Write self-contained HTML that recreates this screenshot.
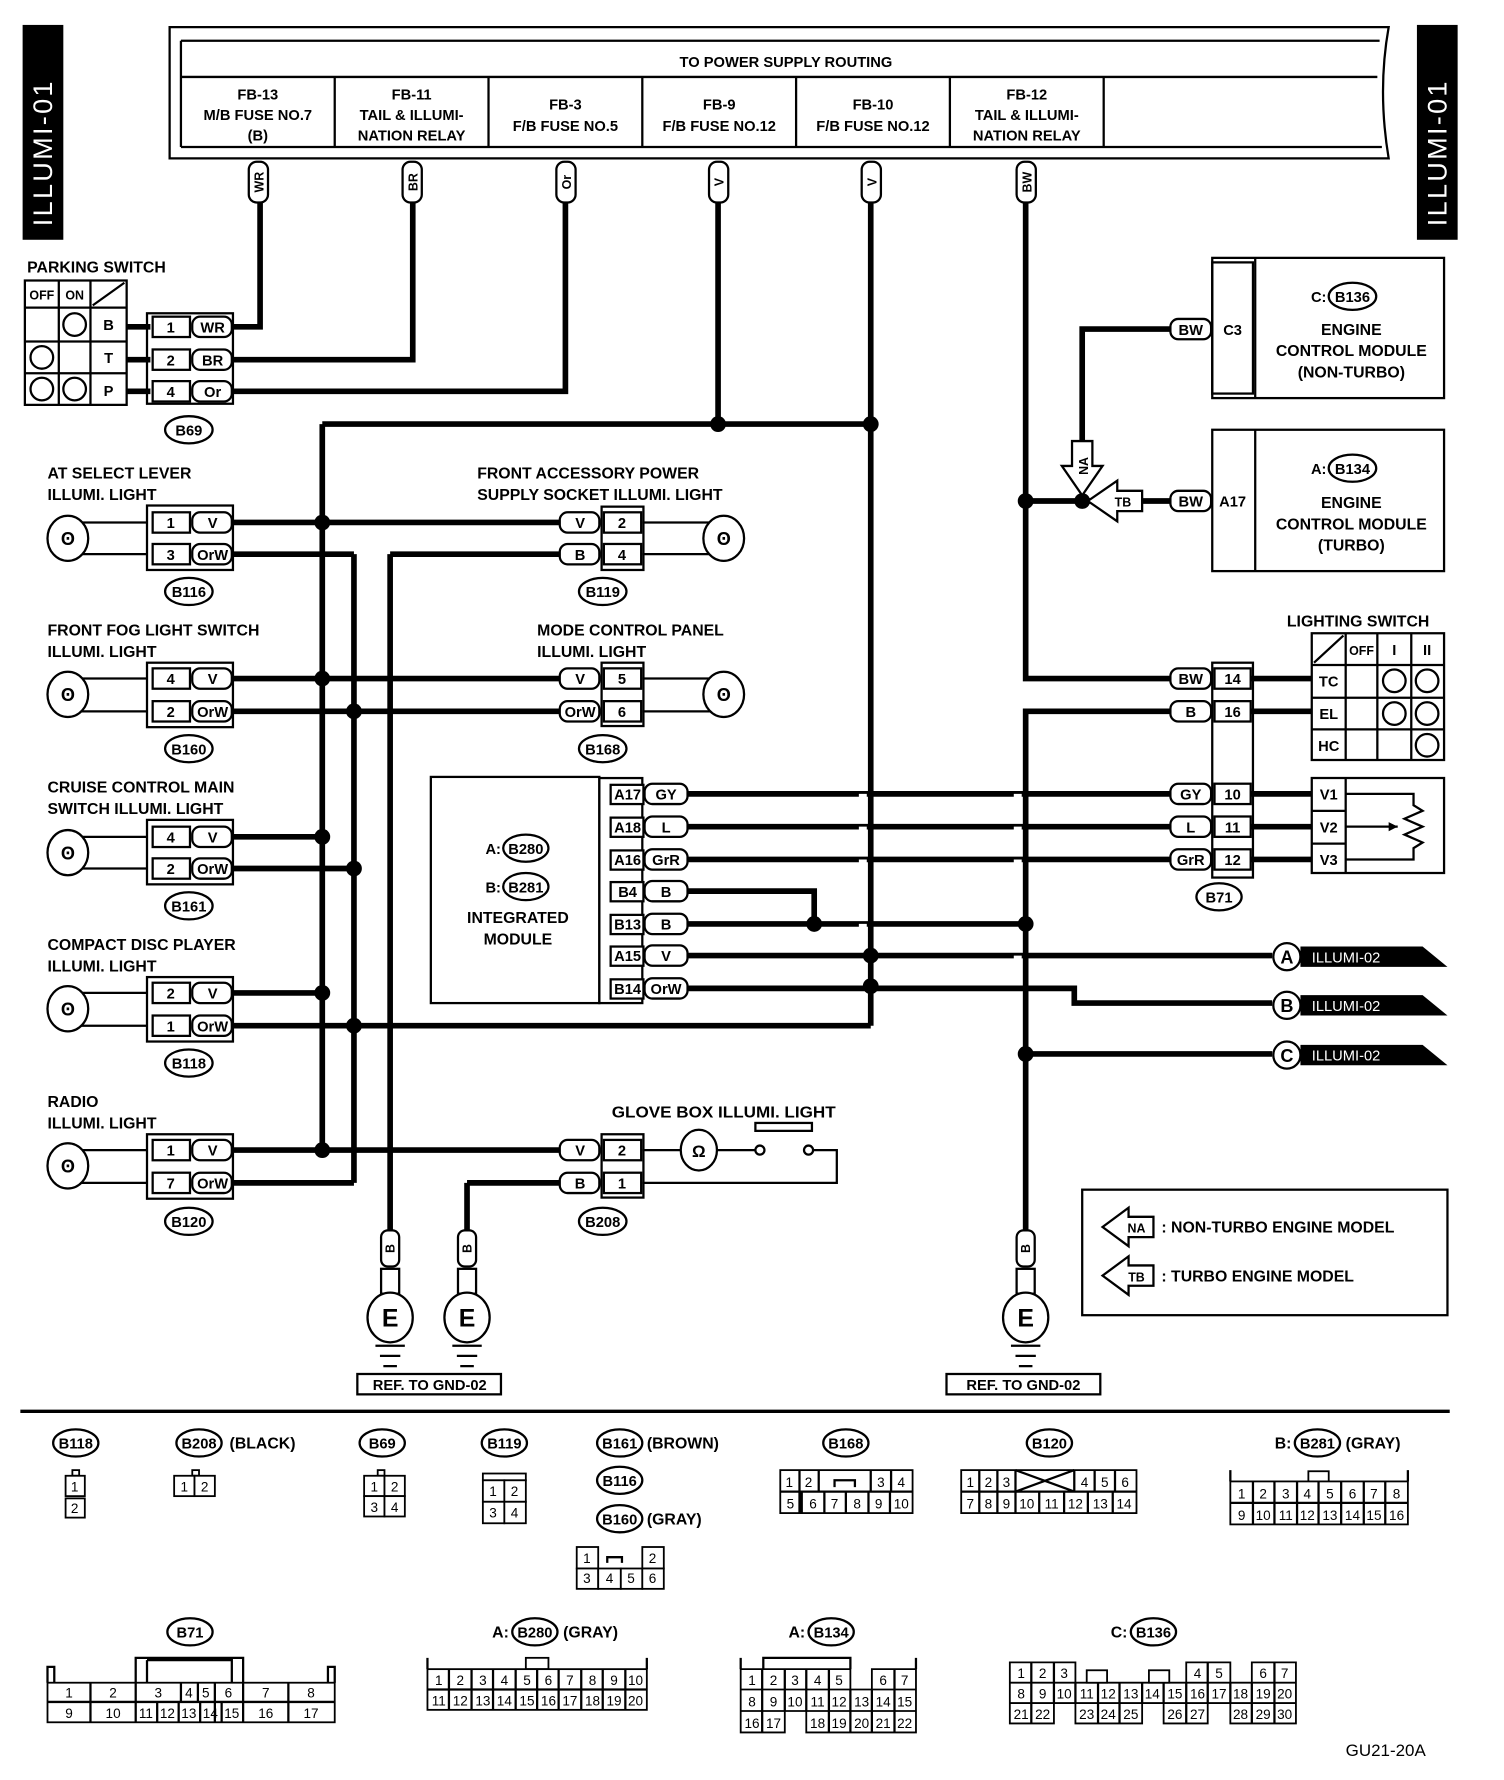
<!DOCTYPE html>
<html><head><meta charset="utf-8"><style>
html,body{margin:0;padding:0;background:#fff}
svg{display:block}
text{font-family:"Liberation Sans Narrow","Liberation Sans",sans-serif;font-weight:bold;fill:#000}
.w{fill:none;stroke:#000;stroke-width:5}
.t{fill:none;stroke:#000;stroke-width:2}
.c{fill:#fff;stroke:#000;stroke-width:1.6}
.p{fill:#fff;stroke:#000;stroke-width:2}
.s{font-size:14px}
.m{font-size:13px;text-anchor:middle}
.n{font-size:12px;text-anchor:middle;font-weight:normal}
.e{font-size:13px;text-anchor:end}
</style></head><body>
<svg width="1504" height="1780" viewBox="0 0 1330 1574" xmlns="http://www.w3.org/2000/svg">
<!-- side tabs -->
<rect x="20" y="22" width="36" height="190" fill="#000"/>
<text transform="translate(46,200) rotate(-90)" style="font-size:24px;fill:#fff;font-weight:normal;letter-spacing:2px">ILLUMI-01</text>
<rect x="1253" y="22" width="36" height="190" fill="#000"/>
<text transform="translate(1279,200) rotate(-90)" style="font-size:24px;fill:#fff;font-weight:normal;letter-spacing:2px">ILLUMI-01</text>

<!-- power supply box -->
<path d="M150,24 H1228 Q1218,80 1228,140 H150 Z" class="t" stroke-width="3"/>
<path d="M160,36 H1220 M160,68 H1218 M160,130 H1222 M160,36 V130" class="t"/>
<text x="695" y="59" class="m">TO POWER SUPPLY ROUTING</text>
<path d="M296,68 V130 M432,68 V130 M568,68 V130 M704,68 V130 M840,68 V130 M976,68 V130" class="t"/>
<g class="m">
<text x="228" y="88" class="m">FB-13</text><text x="228" y="106" class="m">M/B FUSE NO.7</text><text x="228" y="124" class="m">(B)</text>
<text x="364" y="88" class="m">FB-11</text><text x="364" y="106" class="m">TAIL &amp; ILLUMI-</text><text x="364" y="124" class="m">NATION RELAY</text>
<text x="500" y="97" class="m">FB-3</text><text x="500" y="116" class="m">F/B FUSE NO.5</text>
<text x="636" y="97" class="m">FB-9</text><text x="636" y="116" class="m">F/B FUSE NO.12</text>
<text x="772" y="97" class="m">FB-10</text><text x="772" y="116" class="m">F/B FUSE NO.12</text>
<text x="908" y="88" class="m">FB-12</text><text x="908" y="106" class="m">TAIL &amp; ILLUMI-</text><text x="908" y="124" class="m">NATION RELAY</text>
</g>
<!-- vertical wire tags -->
<g>
<rect x="220" y="143" width="17" height="36" rx="7" class="p"/><text transform="translate(233,161) rotate(-90)" class="m" style="font-size:11px">WR</text>
<rect x="356" y="143" width="17" height="36" rx="7" class="p"/><text transform="translate(369,161) rotate(-90)" class="m" style="font-size:11px">BR</text>
<rect x="492" y="143" width="17" height="36" rx="7" class="p"/><text transform="translate(505,161) rotate(-90)" class="m" style="font-size:11px">Or</text>
<rect x="627" y="143" width="17" height="36" rx="7" class="p"/><text transform="translate(640,161) rotate(-90)" class="m" style="font-size:11px">V</text>
<rect x="762" y="143" width="17" height="36" rx="7" class="p"/><text transform="translate(775,161) rotate(-90)" class="m" style="font-size:11px">V</text>
<rect x="899" y="143" width="17" height="36" rx="7" class="p"/><text transform="translate(912,161) rotate(-90)" class="m" style="font-size:11px">BW</text>
</g>

<!-- main wires -->
<g class="w">
<path d="M205,289 H230 V179"/>
<path d="M205,318 H365 V179"/>
<path d="M205,346 H500 V179"/>
<path d="M635,179 V375"/>
<path d="M770,179 V907"/>
<path d="M285,375 H770"/>
<path d="M285,375 V1017"/>
<path d="M313,490 V1046"/>
<path d="M907,179 V600 H1035"/>
<path d="M1035,629 H907 V1090"/>
<path d="M907,443 H1010"/>
<path d="M1035,291 H957 V400"/>
<path d="M205,462 H495"/><path d="M205,490 H313"/>
<path d="M205,600 H495"/><path d="M205,629 H495"/>
<path d="M205,740 H285"/><path d="M205,768 H313"/>
<path d="M205,878 H285"/><path d="M205,907 H770"/>
<path d="M205,1017 H495"/><path d="M205,1046 H313"/>
<path d="M345,490 H495"/>
<path d="M608,702 H1035"/><path d="M608,731 H1035"/><path d="M608,760 H1035"/>
<path d="M608,788 H720 V817"/><path d="M608,817 H907"/>
<path d="M608,845 H1125"/>
<path d="M608,874 H950 V887 H1125"/>
<path d="M907,932 H1125"/>
<path d="M1106,600 H1160"/><path d="M1106,629 H1160"/>
<path d="M1106,702 H1160"/><path d="M1106,731 H1160"/><path d="M1106,760 H1160"/>
</g>
<path d="M345,490 V1090 M413,1046 H495 M413,1046 V1090" class="w" stroke-width="4"/>
<g stroke="#fff" stroke-width="7">
<path d="M763,702 V710 M763,731 V739 M763,760 V768 M763,817 V825"/>
<path d="M900,702 V708 M900,731 V737 M900,760 V766 M900,845 V851"/>
</g>
<g fill="#000">
<circle cx="635" cy="375" r="7"/><circle cx="770" cy="375" r="7"/>
<circle cx="285" cy="462" r="7"/><circle cx="285" cy="600" r="7"/><circle cx="313" cy="629" r="7"/>
<circle cx="285" cy="740" r="7"/><circle cx="313" cy="768" r="7"/>
<circle cx="285" cy="878" r="7"/><circle cx="313" cy="907" r="7"/><circle cx="285" cy="1017" r="7"/>
<circle cx="720" cy="817" r="7"/><circle cx="907" cy="817" r="7"/><circle cx="770" cy="845" r="7"/>
<circle cx="770" cy="872" r="7"/><circle cx="907" cy="932" r="7"/><circle cx="907" cy="443" r="7"/><circle cx="957" cy="443" r="7"/>
</g>

<!-- Parking switch -->
<text x="24" y="241" class="s">PARKING SWITCH</text>
<path d="M22,248 H112 V358 H22 Z M22,272 H112 M22,302 H112 M22,330 H112 M52,248 V358 M80,248 V358 M82,270 L110,250" class="t"/>
<text x="37" y="265" class="m" style="font-size:11px">OFF</text><text x="66" y="265" class="m" style="font-size:11px">ON</text>
<text x="96" y="292" class="m">B</text><text x="96" y="321" class="m">T</text><text x="96" y="350" class="m">P</text>
<g class="t"><circle cx="66" cy="287" r="10"/><circle cx="37" cy="316" r="10"/><circle cx="37" cy="344" r="10"/><circle cx="66" cy="344" r="10"/></g>
<path d="M112,289 H133 M112,318 H133 M112,346 H133" class="w"/>
<rect x="130" y="277" width="76" height="80" class="t"/>
<g>
<rect x="135" y="280" width="33" height="18" class="p"/><text x="151" y="294" class="m">1</text><rect x="170" y="280" width="35" height="18" rx="7" class="p"/><text x="188" y="294" class="m">WR</text>
<rect x="135" y="309" width="33" height="18" class="p"/><text x="151" y="323" class="m">2</text><rect x="170" y="309" width="35" height="18" rx="7" class="p"/><text x="188" y="323" class="m">BR</text>
<rect x="135" y="337" width="33" height="18" class="p"/><text x="151" y="351" class="m">4</text><rect x="170" y="337" width="35" height="18" rx="7" class="p"/><text x="188" y="351" class="m">Or</text>
</g>
<ellipse cx="167" cy="380" rx="21" ry="12" class="p"/><text x="167" y="385" class="m">B69</text>

<!-- left lamp groups -->
<g>
<text x="42" y="423" class="s">AT SELECT LEVER</text><text x="42" y="442" class="s">ILLUMI. LIGHT</text>
<path d="M60,462 H130 M60,490 H130" class="t"/><ellipse cx="60" cy="476" rx="18" ry="20" class="p" stroke-width="2.5"/><text x="60" y="482" class="m" style="font-size:16px">ʘ</text>
<rect x="130" y="447" width="76" height="57" class="t"/>
<rect x="135" y="453" width="33" height="18" class="p"/><text x="151" y="467" class="m">1</text><rect x="170" y="453" width="35" height="18" rx="7" class="p"/><text x="188" y="467" class="m">V</text>
<rect x="135" y="481" width="33" height="18" class="p"/><text x="151" y="495" class="m">3</text><rect x="170" y="481" width="35" height="18" rx="7" class="p"/><text x="188" y="495" class="m">OrW</text>
<ellipse cx="167" cy="523" rx="21" ry="12" class="p"/><text x="167" y="528" class="m">B116</text>

<text x="42" y="562" class="s">FRONT FOG LIGHT SWITCH</text><text x="42" y="581" class="s">ILLUMI. LIGHT</text>
<path d="M60,600 H130 M60,629 H130" class="t"/><ellipse cx="60" cy="614" rx="18" ry="20" class="p" stroke-width="2.5"/><text x="60" y="620" class="m" style="font-size:16px">ʘ</text>
<rect x="130" y="586" width="76" height="57" class="t"/>
<rect x="135" y="591" width="33" height="18" class="p"/><text x="151" y="605" class="m">4</text><rect x="170" y="591" width="35" height="18" rx="7" class="p"/><text x="188" y="605" class="m">V</text>
<rect x="135" y="620" width="33" height="18" class="p"/><text x="151" y="634" class="m">2</text><rect x="170" y="620" width="35" height="18" rx="7" class="p"/><text x="188" y="634" class="m">OrW</text>
<ellipse cx="167" cy="662" rx="21" ry="12" class="p"/><text x="167" y="667" class="m">B160</text>

<text x="42" y="701" class="s">CRUISE CONTROL MAIN</text><text x="42" y="720" class="s">SWITCH ILLUMI. LIGHT</text>
<path d="M60,740 H130 M60,768 H130" class="t"/><ellipse cx="60" cy="754" rx="18" ry="20" class="p" stroke-width="2.5"/><text x="60" y="760" class="m" style="font-size:16px">ʘ</text>
<rect x="130" y="725" width="76" height="57" class="t"/>
<rect x="135" y="731" width="33" height="18" class="p"/><text x="151" y="745" class="m">4</text><rect x="170" y="731" width="35" height="18" rx="7" class="p"/><text x="188" y="745" class="m">V</text>
<rect x="135" y="759" width="33" height="18" class="p"/><text x="151" y="773" class="m">2</text><rect x="170" y="759" width="35" height="18" rx="7" class="p"/><text x="188" y="773" class="m">OrW</text>
<ellipse cx="167" cy="801" rx="21" ry="12" class="p"/><text x="167" y="806" class="m">B161</text>

<text x="42" y="840" class="s">COMPACT DISC PLAYER</text><text x="42" y="859" class="s">ILLUMI. LIGHT</text>
<path d="M60,878 H130 M60,907 H130" class="t"/><ellipse cx="60" cy="892" rx="18" ry="20" class="p" stroke-width="2.5"/><text x="60" y="898" class="m" style="font-size:16px">ʘ</text>
<rect x="130" y="864" width="76" height="57" class="t"/>
<rect x="135" y="869" width="33" height="18" class="p"/><text x="151" y="883" class="m">2</text><rect x="170" y="869" width="35" height="18" rx="7" class="p"/><text x="188" y="883" class="m">V</text>
<rect x="135" y="898" width="33" height="18" class="p"/><text x="151" y="912" class="m">1</text><rect x="170" y="898" width="35" height="18" rx="7" class="p"/><text x="188" y="912" class="m">OrW</text>
<ellipse cx="167" cy="940" rx="21" ry="12" class="p"/><text x="167" y="945" class="m">B118</text>

<text x="42" y="979" class="s">RADIO</text><text x="42" y="998" class="s">ILLUMI. LIGHT</text>
<path d="M60,1017 H130 M60,1046 H130" class="t"/><ellipse cx="60" cy="1031" rx="18" ry="20" class="p" stroke-width="2.5"/><text x="60" y="1037" class="m" style="font-size:16px">ʘ</text>
<rect x="130" y="1003" width="76" height="57" class="t"/>
<rect x="135" y="1008" width="33" height="18" class="p"/><text x="151" y="1022" class="m">1</text><rect x="170" y="1008" width="35" height="18" rx="7" class="p"/><text x="188" y="1022" class="m">V</text>
<rect x="135" y="1037" width="33" height="18" class="p"/><text x="151" y="1051" class="m">7</text><rect x="170" y="1037" width="35" height="18" rx="7" class="p"/><text x="188" y="1051" class="m">OrW</text>
<ellipse cx="167" cy="1080" rx="21" ry="12" class="p"/><text x="167" y="1085" class="m">B120</text>
</g>

<!-- right lamps -->
<text x="422" y="423" class="s">FRONT ACCESSORY POWER</text><text x="422" y="442" class="s">SUPPLY SOCKET ILLUMI. LIGHT</text>
<path d="M568,462 H640 M568,490 H640" class="t"/><ellipse cx="640" cy="476" rx="18" ry="20" class="p" stroke-width="2.5"/><text x="640" y="482" class="m" style="font-size:16px">ʘ</text>
<rect x="532" y="448" width="37" height="56" class="t"/>
<rect x="495" y="453" width="35" height="18" rx="7" class="p"/><text x="513" y="467" class="m">V</text><rect x="534" y="453" width="33" height="18" class="p"/><text x="550" y="467" class="m">2</text>
<rect x="495" y="481" width="35" height="18" rx="7" class="p"/><text x="513" y="495" class="m">B</text><rect x="534" y="481" width="33" height="18" class="p"/><text x="550" y="495" class="m">4</text>
<ellipse cx="533" cy="523" rx="21" ry="12" class="p"/><text x="533" y="528" class="m">B119</text>

<text x="475" y="562" class="s">MODE CONTROL PANEL</text><text x="475" y="581" class="s">ILLUMI. LIGHT</text>
<path d="M568,600 H640 M568,629 H640" class="t"/><ellipse cx="640" cy="614" rx="18" ry="20" class="p" stroke-width="2.5"/><text x="640" y="620" class="m" style="font-size:16px">ʘ</text>
<rect x="532" y="586" width="37" height="56" class="t"/>
<rect x="495" y="591" width="35" height="18" rx="7" class="p"/><text x="513" y="605" class="m">V</text><rect x="534" y="591" width="33" height="18" class="p"/><text x="550" y="605" class="m">5</text>
<rect x="495" y="620" width="35" height="18" rx="7" class="p"/><text x="513" y="634" class="m">OrW</text><rect x="534" y="620" width="33" height="18" class="p"/><text x="550" y="634" class="m">6</text>
<ellipse cx="533" cy="662" rx="21" ry="12" class="p"/><text x="533" y="667" class="m">B168</text>

<text x="541" y="988" class="s" textLength="198" lengthAdjust="spacingAndGlyphs">GLOVE BOX ILLUMI. LIGHT</text>
<rect x="668" y="993" width="50" height="7" class="p"/>
<path d="M568,1017 H672 M718,1017 H740 V1046 H568" class="t"/>
<ellipse cx="618" cy="1017" rx="16" ry="18" class="p" stroke-width="2.5"/><text x="618" y="1023" class="m" style="font-size:15px">Ω</text>
<circle cx="672" cy="1017" r="4" class="p"/><circle cx="715" cy="1017" r="4" class="p"/>
<rect x="532" y="1003" width="37" height="56" class="t"/>
<rect x="495" y="1008" width="35" height="18" rx="7" class="p"/><text x="513" y="1022" class="m">V</text><rect x="534" y="1008" width="33" height="18" class="p"/><text x="550" y="1022" class="m">2</text>
<rect x="495" y="1037" width="35" height="18" rx="7" class="p"/><text x="513" y="1051" class="m">B</text><rect x="534" y="1037" width="33" height="18" class="p"/><text x="550" y="1051" class="m">1</text>
<ellipse cx="533" cy="1080" rx="21" ry="12" class="p"/><text x="533" y="1085" class="m">B208</text>

<!-- integrated module -->
<rect x="381" y="687" width="149" height="200" class="t"/>
<rect x="530" y="688" width="38" height="199" class="t"/>
<g>
<text x="443" y="755" class="e">A:</text><ellipse cx="465" cy="750" rx="20" ry="12" class="p"/><text x="465" y="755" class="m">B280</text>
<text x="443" y="789" class="e">B:</text><ellipse cx="465" cy="784" rx="20" ry="12" class="p"/><text x="465" y="789" class="m">B281</text>
<text x="458" y="816" class="m" style="font-size:14px">INTEGRATED</text><text x="458" y="835" class="m" style="font-size:14px">MODULE</text>
</g>
<g>
<rect x="540" y="694" width="29" height="17" class="p"/><text x="555" y="707" class="m">A17</text><rect x="570" y="693" width="38" height="18" rx="7" class="p"/><text x="589" y="707" class="m">GY</text>
<rect x="540" y="723" width="29" height="17" class="p"/><text x="555" y="736" class="m">A18</text><rect x="570" y="722" width="38" height="18" rx="7" class="p"/><text x="589" y="736" class="m">L</text>
<rect x="540" y="752" width="29" height="17" class="p"/><text x="555" y="765" class="m">A16</text><rect x="570" y="751" width="38" height="18" rx="7" class="p"/><text x="589" y="765" class="m">GrR</text>
<rect x="540" y="780" width="29" height="17" class="p"/><text x="555" y="793" class="m">B4</text><rect x="570" y="779" width="38" height="18" rx="7" class="p"/><text x="589" y="793" class="m">B</text>
<rect x="540" y="809" width="29" height="17" class="p"/><text x="555" y="822" class="m">B13</text><rect x="570" y="808" width="38" height="18" rx="7" class="p"/><text x="589" y="822" class="m">B</text>
<rect x="540" y="837" width="29" height="17" class="p"/><text x="555" y="850" class="m">A15</text><rect x="570" y="836" width="38" height="18" rx="7" class="p"/><text x="589" y="850" class="m">V</text>
<rect x="540" y="866" width="29" height="17" class="p"/><text x="555" y="879" class="m">B14</text><rect x="570" y="865" width="38" height="18" rx="7" class="p"/><text x="589" y="879" class="m">OrW</text>
</g>

<!-- ECM boxes -->
<rect x="1072" y="228" width="205" height="124" class="t"/><path d="M1110,228 V352" class="t"/>
<rect x="1072" y="232" width="36" height="116" class="t" stroke-width="1"/>
<text x="1173" y="267" class="e">C:</text><ellipse cx="1196" cy="262" rx="21" ry="12" class="p"/><text x="1196" y="267" class="m">B136</text>
<text x="1195" y="296" class="m" style="font-size:14px">ENGINE</text><text x="1195" y="315" class="m" style="font-size:14px">CONTROL MODULE</text><text x="1195" y="334" class="m" style="font-size:14px">(NON-TURBO)</text>
<rect x="1035" y="282" width="36" height="18" rx="7" class="p"/><text x="1053" y="296" class="m">BW</text><text x="1090" y="296" class="m">C3</text>
<rect x="1072" y="380" width="205" height="125" class="t"/><path d="M1110,380 V505" class="t"/>
<text x="1173" y="419" class="e">A:</text><ellipse cx="1196" cy="414" rx="21" ry="12" class="p"/><text x="1196" y="419" class="m">B134</text>
<text x="1195" y="449" class="m" style="font-size:14px">ENGINE</text><text x="1195" y="468" class="m" style="font-size:14px">CONTROL MODULE</text><text x="1195" y="487" class="m" style="font-size:14px">(TURBO)</text>
<path d="M1010,443 H1035" class="w"/>
<rect x="1035" y="434" width="36" height="18" rx="7" class="p"/><text x="1053" y="448" class="m">BW</text><text x="1090" y="448" class="m">A17</text>
<path d="M948,390 H966 V412 H975 L957,438 L939,412 H948 Z" class="p"/>
<text transform="translate(962,412) rotate(-90)" class="m" style="font-size:11px">NA</text>
<path d="M1010,434 V452 H988 V461 L962,443 L988,425 V434 Z" class="p"/>
<text x="993" y="448" class="m" style="font-size:11px">TB</text>

<!-- Lighting switch -->
<text x="1138" y="554" class="s">LIGHTING SWITCH</text>
<path d="M1160,560 H1277 V672 H1160 Z M1160,588 H1277 M1160,617 H1277 M1160,645 H1277 M1190,560 V672 M1218,560 V672 M1248,560 V672 M1162,586 L1188,562" class="t"/>
<text x="1204" y="579" class="m" style="font-size:11px">OFF</text><text x="1233" y="579" class="m">I</text><text x="1262" y="579" class="m">II</text>
<text x="1175" y="607" class="m">TC</text><text x="1175" y="636" class="m">EL</text><text x="1175" y="664" class="m">HC</text>
<g class="t"><circle cx="1233" cy="602" r="10"/><circle cx="1262" cy="602" r="10"/><circle cx="1233" cy="631" r="10"/><circle cx="1262" cy="631" r="10"/><circle cx="1262" cy="659" r="10"/></g>
<path d="M1160,688 H1277 V772 H1160 Z M1190,688 V772 M1160,717 H1190 M1160,746 H1190" class="t"/>
<text x="1175" y="707" class="m">V1</text><text x="1175" y="736" class="m">V2</text><text x="1175" y="765" class="m">V3</text>
<path d="M1190,702 H1250 V712 L1258,717 L1242,724 L1258,731 L1242,738 L1258,745 L1250,750 V760 H1190 M1190,731 H1236" class="t"/>
<path d="M1236,731 L1228,727 V735 Z" fill="#000"/>
<!-- B71 -->
<rect x="1072" y="586" width="36" height="190" class="t"/>
<g>
<rect x="1035" y="591" width="36" height="18" rx="7" class="p"/><text x="1053" y="605" class="m">BW</text><rect x="1074" y="591" width="32" height="18" class="p"/><text x="1090" y="605" class="m">14</text>
<rect x="1035" y="620" width="36" height="18" rx="7" class="p"/><text x="1053" y="634" class="m">B</text><rect x="1074" y="620" width="32" height="18" class="p"/><text x="1090" y="634" class="m">16</text>
<rect x="1035" y="693" width="36" height="18" rx="7" class="p"/><text x="1053" y="707" class="m">GY</text><rect x="1074" y="693" width="32" height="18" class="p"/><text x="1090" y="707" class="m">10</text>
<rect x="1035" y="722" width="36" height="18" rx="7" class="p"/><text x="1053" y="736" class="m">L</text><rect x="1074" y="722" width="32" height="18" class="p"/><text x="1090" y="736" class="m">11</text>
<rect x="1035" y="751" width="36" height="18" rx="7" class="p"/><text x="1053" y="765" class="m">GrR</text><rect x="1074" y="751" width="32" height="18" class="p"/><text x="1090" y="765" class="m">12</text>
</g>
<ellipse cx="1078" cy="793" rx="20" ry="12" class="p"/><text x="1078" y="798" class="m">B71</text>

<!-- outputs -->
<g>
<path d="M1150,837 H1258 L1280,855 H1150 Z" fill="#000"/><circle cx="1138" cy="846" r="12" class="p" stroke-width="2.5"/><text x="1138" y="852" class="m" style="font-size:16px">A</text><text x="1160" y="851" style="font-size:13px;fill:#fff;font-weight:normal">ILLUMI-02</text>
<path d="M1150,880 H1258 L1280,898 H1150 Z" fill="#000"/><circle cx="1138" cy="889" r="12" class="p" stroke-width="2.5"/><text x="1138" y="895" class="m" style="font-size:16px">B</text><text x="1160" y="894" style="font-size:13px;fill:#fff;font-weight:normal">ILLUMI-02</text>
<path d="M1150,924 H1258 L1280,942 H1150 Z" fill="#000"/><circle cx="1138" cy="933" r="12" class="p" stroke-width="2.5"/><text x="1138" y="939" class="m" style="font-size:16px">C</text><text x="1160" y="938" style="font-size:13px;fill:#fff;font-weight:normal">ILLUMI-02</text>
</g>

<!-- grounds -->
<g>
<rect x="337" y="1088" width="16" height="32" rx="6" class="p"/><text transform="translate(349,1104) rotate(-90)" class="m" style="font-size:11px">B</text>
<rect x="337" y="1122" width="16" height="22" class="p"/><ellipse cx="345" cy="1165" rx="20" ry="22" class="p" stroke-width="3"/><text x="345" y="1173" class="m" style="font-size:22px">E</text>
<path d="M332,1190 H358 M336,1199 H354 M339,1208 H351" class="t"/>
<rect x="405" y="1088" width="16" height="32" rx="6" class="p"/><text transform="translate(417,1104) rotate(-90)" class="m" style="font-size:11px">B</text>
<rect x="405" y="1122" width="16" height="22" class="p"/><ellipse cx="413" cy="1165" rx="20" ry="22" class="p" stroke-width="3"/><text x="413" y="1173" class="m" style="font-size:22px">E</text>
<path d="M400,1190 H426 M404,1199 H422 M407,1208 H419" class="t"/>
<rect x="899" y="1088" width="16" height="32" rx="6" class="p"/><text transform="translate(911,1104) rotate(-90)" class="m" style="font-size:11px">B</text>
<rect x="899" y="1122" width="16" height="22" class="p"/><ellipse cx="907" cy="1165" rx="20" ry="22" class="p" stroke-width="3"/><text x="907" y="1173" class="m" style="font-size:22px">E</text>
<path d="M894,1190 H920 M898,1199 H916 M901,1208 H913" class="t"/>
<rect x="316" y="1215" width="127" height="18" class="t"/><text x="380" y="1229" class="m">REF. TO GND-02</text>
<rect x="837" y="1215" width="136" height="18" class="t"/><text x="905" y="1229" class="m">REF. TO GND-02</text>
</g>

<!-- legend -->
<rect x="957" y="1052" width="323" height="111" class="t"/>
<path d="M1020,1076 V1094 H998 V1102 L975,1085 L998,1068 V1076 Z" class="p"/><text x="1005" y="1090" class="m" style="font-size:11px">NA</text>
<text x="1027" y="1090" class="s">: NON-TURBO ENGINE MODEL</text>
<path d="M1020,1119 V1137 H998 V1145 L975,1128 L998,1111 V1119 Z" class="p"/><text x="1005" y="1133" class="m" style="font-size:11px">TB</text>
<text x="1027" y="1133" class="s">: TURBO ENGINE MODEL</text>

<path d="M18,1248 H1282" stroke="#000" stroke-width="3"/>

<!-- bottom connector diagrams -->
<g>
<ellipse cx="67" cy="1276" rx="20" ry="12" class="p"/><text x="67" y="1281" class="m">B118</text>
<rect x="64" y="1300" width="6" height="5" class="c"/><rect x="58" y="1305" width="17" height="18" class="c"/><text x="66" y="1319" class="n">1</text><rect x="58" y="1325" width="17" height="17" class="c"/><text x="66" y="1338" class="n">2</text>

<ellipse cx="176" cy="1276" rx="20" ry="12" class="p"/><text x="176" y="1281" class="m">B208</text><text x="203" y="1281" class="s">(BLACK)</text>
<rect x="170" y="1300" width="6" height="5" class="c"/><rect x="154" y="1305" width="18" height="18" class="c"/><text x="163" y="1319" class="n">1</text><rect x="172" y="1305" width="18" height="18" class="c"/><text x="181" y="1319" class="n">2</text>

<ellipse cx="338" cy="1276" rx="20" ry="12" class="p"/><text x="338" y="1281" class="m">B69</text>
<rect x="334" y="1300" width="6" height="5" class="c"/>
<rect x="322" y="1305" width="18" height="18" class="c"/><text x="331" y="1319" class="n">1</text><rect x="340" y="1305" width="18" height="18" class="c"/><text x="349" y="1319" class="n">2</text>
<rect x="322" y="1323" width="18" height="18" class="c"/><text x="331" y="1337" class="n">3</text><rect x="340" y="1323" width="18" height="18" class="c"/><text x="349" y="1337" class="n">4</text>

<ellipse cx="446" cy="1276" rx="20" ry="12" class="p"/><text x="446" y="1281" class="m">B119</text>
<rect x="427" y="1303" width="38" height="6" class="c"/>
<rect x="427" y="1309" width="19" height="19" class="c"/><text x="436" y="1323" class="n">1</text><rect x="446" y="1309" width="19" height="19" class="c"/><text x="455" y="1323" class="n">2</text>
<rect x="427" y="1328" width="19" height="19" class="c"/><text x="436" y="1342" class="n">3</text><rect x="446" y="1328" width="19" height="19" class="c"/><text x="455" y="1342" class="n">4</text>

<ellipse cx="548" cy="1276" rx="20" ry="12" class="p"/><text x="548" y="1281" class="m">B161</text><text x="572" y="1281" class="s">(BROWN)</text>
<ellipse cx="548" cy="1309" rx="20" ry="12" class="p"/><text x="548" y="1314" class="m">B116</text>
<ellipse cx="548" cy="1343" rx="20" ry="12" class="p"/><text x="548" y="1348" class="m">B160</text><text x="572" y="1348" class="s">(GRAY)</text>
<rect x="510" y="1368" width="19" height="19" class="c"/><text x="519" y="1382" class="n">1</text><path d="M537,1382 V1377 H550 V1382" class="t" stroke-width="1.5"/><rect x="568" y="1368" width="19" height="19" class="c"/><text x="577" y="1382" class="n">2</text>
<rect x="510" y="1387" width="19" height="18" class="c"/><text x="519" y="1400" class="n">3</text><rect x="529" y="1387" width="20" height="18" class="c"/><text x="539" y="1400" class="n">4</text><rect x="549" y="1387" width="19" height="18" class="c"/><text x="558" y="1400" class="n">5</text><rect x="568" y="1387" width="19" height="18" class="c"/><text x="577" y="1400" class="n">6</text>

<ellipse cx="748" cy="1276" rx="20" ry="12" class="p"/><text x="748" y="1281" class="m">B168</text>
<rect x="690" y="1300" width="117" height="38" class="c"/>
<path d="M690,1319 H807 M707,1300 V1338 M724,1300 V1319 M770,1300 V1319 M788,1300 V1319 M709,1319 V1338 M729,1319 V1338 M748,1319 V1338 M768,1319 V1338 M787,1319 V1338 M738,1315 V1309 H756 V1315" class="t" stroke-width="1.5"/>
<text x="698" y="1315" class="n">1</text><text x="715" y="1315" class="n">2</text><text x="779" y="1315" class="n">3</text><text x="797" y="1315" class="n">4</text>
<text x="699" y="1334" class="n">5</text><text x="719" y="1334" class="n">6</text><text x="738" y="1334" class="n">7</text><text x="758" y="1334" class="n">8</text><text x="777" y="1334" class="n">9</text><text x="797" y="1334" class="n">10</text>

<ellipse cx="928" cy="1276" rx="20" ry="12" class="p"/><text x="928" y="1281" class="m">B120</text>
<rect x="850" y="1300" width="155" height="38" class="c"/>
<path d="M850,1319 H1005 M866,1300 V1338 M882,1300 V1338 M898,1300 V1338 M950,1300 V1319 M968,1300 V1319 M986,1300 V1319 M919,1319 V1338 M941,1319 V1338 M962,1319 V1338 M984,1319 V1338 M898,1300 L950,1319 M898,1319 L950,1300" class="t" stroke-width="1.5"/>
<text x="858" y="1315" class="n">1</text><text x="874" y="1315" class="n">2</text><text x="890" y="1315" class="n">3</text><text x="959" y="1315" class="n">4</text><text x="977" y="1315" class="n">5</text><text x="995" y="1315" class="n">6</text>
<text x="858" y="1334" class="n">7</text><text x="874" y="1334" class="n">8</text><text x="890" y="1334" class="n">9</text><text x="908" y="1334" class="n">10</text><text x="930" y="1334" class="n">11</text><text x="951" y="1334" class="n">12</text><text x="973" y="1334" class="n">13</text><text x="994" y="1334" class="n">14</text>

<text x="1142" y="1281" class="e" style="font-size:14px">B:</text><ellipse cx="1165" cy="1276" rx="20" ry="12" class="p"/><text x="1165" y="1281" class="m">B281</text><text x="1190" y="1281" class="s">(GRAY)</text>
<path d="M1088,1300 V1310 M1245,1300 V1310" class="t" stroke-width="1.5"/><rect x="1157" y="1301" width="18" height="9" class="c"/>
<rect x="1088" y="1310" width="157" height="38" class="c"/>
<path d="M1088,1329 H1245 M1108,1310 V1348 M1127,1310 V1348 M1147,1310 V1348 M1166,1310 V1348 M1186,1310 V1348 M1206,1310 V1348 M1225,1310 V1348" class="t" stroke-width="1.5"/>
<text x="1098" y="1325" class="n">1</text><text x="1117" y="1325" class="n">2</text><text x="1137" y="1325" class="n">3</text><text x="1156" y="1325" class="n">4</text><text x="1176" y="1325" class="n">5</text><text x="1196" y="1325" class="n">6</text><text x="1215" y="1325" class="n">7</text><text x="1235" y="1325" class="n">8</text>
<text x="1098" y="1344" class="n">9</text><text x="1117" y="1344" class="n">10</text><text x="1137" y="1344" class="n">11</text><text x="1156" y="1344" class="n">12</text><text x="1176" y="1344" class="n">13</text><text x="1196" y="1344" class="n">14</text><text x="1215" y="1344" class="n">15</text><text x="1235" y="1344" class="n">16</text>

<ellipse cx="168" cy="1443" rx="20" ry="12" class="p"/><text x="168" y="1448" class="m">B71</text>
<path d="M42,1488 V1474 H48 V1488 M290,1488 V1474 H296 V1488 M120,1488 V1466 H215 V1488 M130,1468 H205 V1488 M130,1468 V1488" class="t" stroke-width="1.5"/>
<rect x="42" y="1488" width="254" height="35" class="c"/>
<path d="M42,1505 H296 M80,1488 V1523 M120,1488 V1523 M160,1488 V1505 M175,1488 V1505 M190,1488 V1523 M215,1488 V1523 M255,1488 V1523 M139,1505 V1523 M158,1505 V1523 M177,1505 V1523 M196,1505 V1523" class="t" stroke-width="1.5"/>
<text x="61" y="1501" class="n">1</text><text x="100" y="1501" class="n">2</text><text x="140" y="1501" class="n">3</text><text x="167" y="1501" class="n">4</text><text x="182" y="1501" class="n">5</text><text x="202" y="1501" class="n">6</text><text x="235" y="1501" class="n">7</text><text x="275" y="1501" class="n">8</text>
<text x="61" y="1519" class="n">9</text><text x="100" y="1519" class="n">10</text><text x="129" y="1519" class="n">11</text><text x="148" y="1519" class="n">12</text><text x="167" y="1519" class="n">13</text><text x="186" y="1519" class="n">14</text><text x="205" y="1519" class="n">15</text><text x="235" y="1519" class="n">16</text><text x="275" y="1519" class="n">17</text>

<text x="450" y="1448" class="e" style="font-size:14px">A:</text><ellipse cx="473" cy="1443" rx="20" ry="12" class="p"/><text x="473" y="1448" class="m">B280</text><text x="498" y="1448" class="s">(GRAY)</text>
<path d="M378,1466 V1476 M572,1466 V1476" class="t" stroke-width="1.5"/><rect x="465" y="1466" width="20" height="10" class="c"/>
<rect x="378" y="1476" width="194" height="36" class="c"/>
<path d="M378,1494 H572 M397,1476 V1512 M417,1476 V1512 M436,1476 V1512 M456,1476 V1512 M475,1476 V1512 M494,1476 V1512 M514,1476 V1512 M533,1476 V1512 M553,1476 V1512" class="t" stroke-width="1.5"/>
<text x="388" y="1490" class="n">1</text><text x="407" y="1490" class="n">2</text><text x="427" y="1490" class="n">3</text><text x="446" y="1490" class="n">4</text><text x="466" y="1490" class="n">5</text><text x="485" y="1490" class="n">6</text><text x="504" y="1490" class="n">7</text><text x="524" y="1490" class="n">8</text><text x="543" y="1490" class="n">9</text><text x="562" y="1490" class="n">10</text>
<text x="388" y="1508" class="n">11</text><text x="407" y="1508" class="n">12</text><text x="427" y="1508" class="n">13</text><text x="446" y="1508" class="n">14</text><text x="466" y="1508" class="n">15</text><text x="485" y="1508" class="n">16</text><text x="504" y="1508" class="n">17</text><text x="524" y="1508" class="n">18</text><text x="543" y="1508" class="n">19</text><text x="562" y="1508" class="n">20</text>

<text x="712" y="1448" class="e" style="font-size:14px">A:</text><ellipse cx="735" cy="1443" rx="20" ry="12" class="p"/><text x="735" y="1448" class="m">B134</text>
<path d="M655,1466 V1476 M810,1466 V1476 M675,1476 V1466 H752 V1476" class="t" stroke-width="1.5"/>
<path d="M655,1476 H752 V1494 H655 Z M771,1476 H810 V1494 H771 Z M655,1494 H810 V1513 H655 Z M655,1513 H694 V1532 H655 Z M713,1513 H810 V1532 H713 Z" class="c"/>
<path d="M674,1476 V1532 M694,1476 V1513 M713,1476 V1513 M733,1476 V1532 M752,1494 V1532 M771,1494 V1532 M791,1476 V1532" class="t" stroke-width="1.5"/>
<text x="665" y="1490" class="n">1</text><text x="684" y="1490" class="n">2</text><text x="703" y="1490" class="n">3</text><text x="723" y="1490" class="n">4</text><text x="742" y="1490" class="n">5</text><text x="781" y="1490" class="n">6</text><text x="800" y="1490" class="n">7</text>
<text x="665" y="1509" class="n">8</text><text x="684" y="1509" class="n">9</text><text x="703" y="1509" class="n">10</text><text x="723" y="1509" class="n">11</text><text x="742" y="1509" class="n">12</text><text x="762" y="1509" class="n">13</text><text x="781" y="1509" class="n">14</text><text x="800" y="1509" class="n">15</text>
<text x="665" y="1528" class="n">16</text><text x="684" y="1528" class="n">17</text><text x="723" y="1528" class="n">18</text><text x="742" y="1528" class="n">19</text><text x="762" y="1528" class="n">20</text><text x="781" y="1528" class="n">21</text><text x="800" y="1528" class="n">22</text>

<text x="997" y="1448" class="e" style="font-size:14px">C:</text><ellipse cx="1020" cy="1443" rx="20" ry="12" class="p"/><text x="1020" y="1448" class="m">B136</text>
<path d="M893,1470 H951 V1488 H893 Z M1049,1470 H1088 V1488 H1049 Z M1107,1470 H1146 V1488 H1107 Z M893,1488 H1146 V1506 H893 Z M893,1506 H932 V1524 H893 Z M951,1506 H1010 V1524 H951 Z M1029,1506 H1068 V1524 H1029 Z M1088,1506 H1146 V1524 H1088 Z" class="c"/>
<rect x="961" y="1477" width="18" height="11" class="c"/><rect x="1016" y="1477" width="18" height="11" class="c"/>
<path d="M912,1470 V1524 M932,1470 V1506 M951,1488 V1506 M971,1488 V1524 M990,1488 V1524 M1010,1488 V1506 M1029,1488 V1506 M1049,1488 V1524 M1068,1470 V1506 M1088,1488 V1506 M1107,1488 V1524 M1127,1470 V1524" class="t" stroke-width="1.5"/>
<text x="903" y="1484" class="n">1</text><text x="922" y="1484" class="n">2</text><text x="941" y="1484" class="n">3</text><text x="1059" y="1484" class="n">4</text><text x="1078" y="1484" class="n">5</text><text x="1117" y="1484" class="n">6</text><text x="1136" y="1484" class="n">7</text>
<text x="903" y="1502" class="n">8</text><text x="922" y="1502" class="n">9</text><text x="941" y="1502" class="n">10</text><text x="961" y="1502" class="n">11</text><text x="980" y="1502" class="n">12</text><text x="1000" y="1502" class="n">13</text><text x="1019" y="1502" class="n">14</text><text x="1039" y="1502" class="n">15</text><text x="1059" y="1502" class="n">16</text><text x="1078" y="1502" class="n">17</text><text x="1097" y="1502" class="n">18</text><text x="1117" y="1502" class="n">19</text><text x="1136" y="1502" class="n">20</text>
<text x="903" y="1520" class="n">21</text><text x="922" y="1520" class="n">22</text><text x="961" y="1520" class="n">23</text><text x="980" y="1520" class="n">24</text><text x="1000" y="1520" class="n">25</text><text x="1039" y="1520" class="n">26</text><text x="1059" y="1520" class="n">27</text><text x="1097" y="1520" class="n">28</text><text x="1117" y="1520" class="n">29</text><text x="1136" y="1520" class="n">30</text>
</g>
<text x="1190" y="1553" style="font-size:15px;font-weight:normal">GU21-20A</text>
</svg>
</body></html>
